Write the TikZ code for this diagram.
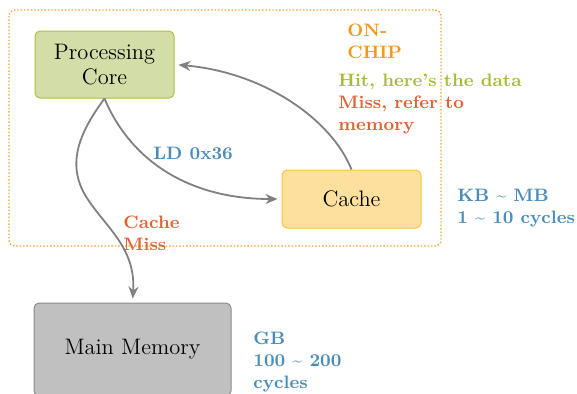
\documentclass[tikz,border=0pt]{standalone}
\usepackage{tikz}
\usetikzlibrary{
  arrows.meta,
  positioning
}
\definecolor{corefill}{RGB}{211,221,168}
\definecolor{coredraw}{RGB}{172,192,62}
\definecolor{cachefill}{RGB}{253,223,158}
\definecolor{cachedraw}{RGB}{246,196,66}
\definecolor{memfill}{RGB}{192,192,192}
\definecolor{memdraw}{RGB}{138,138,138}
\definecolor{arrowgray}{RGB}{128,128,128}
\definecolor{chiporange}{RGB}{244,162,44}
\definecolor{noteblue}{RGB}{74,141,183}
\definecolor{notered}{RGB}{226,98,50}
\definecolor{notegreen}{RGB}{168,186,56}
\definecolor{noteorange}{RGB}{242,152,30}
\tikzset{
  block/.style={
    rectangle, rounded corners=2.5pt, line width=0.5pt,
    text centered, align=center,
    font=\fontsize{11.2}{12.5}\selectfont
  },
  blockG/.style={
    block, fill=corefill, draw=coredraw,
    minimum width=69.5pt, minimum height=33.5pt
  },
  blockO/.style={
    block, fill=cachefill, draw=cachedraw,
    minimum width=69.5pt, minimum height=29pt
  },
  blockM/.style={
    block, fill=memfill, draw=memdraw,
    minimum width=98.5pt, minimum height=46.5pt
  },
  arrow/.style={-{Stealth[length=6pt,width=5pt]}, line width=0.9pt,
    color=arrowgray, shorten >=2pt},
  note/.style={
    anchor=base west, align=left, inner sep=0pt,
    font=\fontsize{9}{11}\selectfont\bfseries
  },
  noteB/.style={note, text=noteblue},
  noteR/.style={note, text=notered},
  noteG/.style={note, text=notegreen},
  noteO/.style={note, text=noteorange},
  chipbox/.style={
    draw=chiporange, densely dotted, line width=0.7pt, rounded corners=3pt
  }
}

\begin{document}
\begin{tikzpicture}[x=0.5pt, y=-0.5pt]
\useasboundingbox (0,0) rectangle (577,393);

% on-chip frame
\draw[chipbox] (9,10) rectangle (441,246);

\node[blockG] (core)  at (104.5,64.5) {Processing\\Core};
\node[blockO] (cache) at (351.5,199)  {Cache};
\node[blockM] (mem)   at (132.5,349.5) {Main Memory};

\coordinate (missbend) at (84,193);

% multi-line notes sit on their last baseline
\node[noteO] (onchip) at (347,58)  {ON-\\CHIP};
\node[noteG] (hit)    at (338,86)  {Hit, here’s the data};
\node[noteR] (miss)   at (338,130) {Miss, refer to\\memory};
\node[noteB] (ld)     at (153,159) {LD 0x36};
\node[noteB] (kbmb)   at (457,223) {KB \textasciitilde{} MB\\1 \textasciitilde{} 10 cycles};
\node[noteR] (cmiss)  at (123,250) {Cache\\Miss};
\node[noteB] (gb)     at (253,388) {GB\\100 \textasciitilde{} 200\\cycles};

\draw[arrow] (cache.north) .. controls +(-20,-50) and +(90,8) .. (core.east);
\draw[arrow] (core.south) .. controls +(25,60) and +(-95,0) .. (cache.west);
\draw[arrow] (core.south) .. controls +(-22,30) and (66,160) .. (missbend)
  .. controls (102,225) and (136,245) .. (mem.north);
\end{tikzpicture}
\end{document}
